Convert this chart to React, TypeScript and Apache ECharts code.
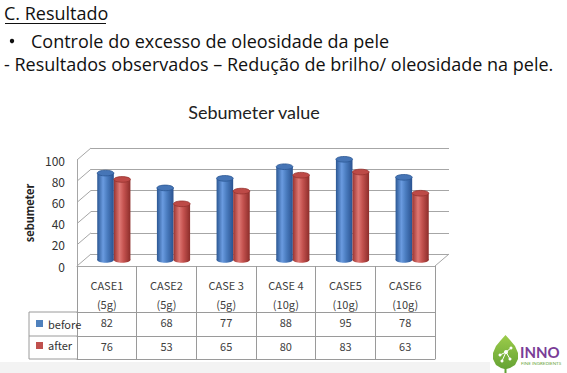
import React, { useEffect, useRef } from "react";
import * as echarts from "echarts";

const headerLines = [
  "C. Resultado",
  "Controle do excesso de oleosidade da pele",
  "- Resultados observados – Redução de brilho/ oleosidade na pele.",
];
const chartTitle = "Sebumeter value";
const yAxisName = "sebumeter";
const categories = ["CASE1", "CASE2", "CASE 3", "CASE 4", "CASE5", "CASE6"];
const doses = ["(5g)", "(5g)", "(5g)", "(10g)", "(10g)", "(10g)"];
const seriesNames = ["before", "after"];
const before = [82, 68, 77, 88, 95, 78];
const after = [76, 53, 65, 80, 83, 63];
const yTicks = [0, 20, 40, 60, 80, 100];

const HFONT = "'Open Sans'";
const FONT = "Lato";
const TFONT = "Noto Sans CJK KR";

// layout
const FRONT = { left: 77, top: 160, width: 358, height: 106 };
const DX = 14;
const DY = -12;
const GRID_LINE = "#a6a6a6";

const BLUE = {
  base: "#4f81bd",
  grad: [
    { offset: 0, color: "#2b5793" },
    { offset: 0.35, color: "#6a9be0" },
    { offset: 0.6, color: "#4b7dc0" },
    { offset: 1, color: "#2a5290" },
  ],
  top: "#4675b6",
  rim: "#2b5793",
};
const RED = {
  base: "#c0504d",
  grad: [
    { offset: 0, color: "#9a3431" },
    { offset: 0.35, color: "#de7773" },
    { offset: 0.6, color: "#c4524f" },
    { offset: 1, color: "#8c2d2a" },
  ],
  top: "#bd4a47",
  rim: "#96322f",
};

function barRenderer(side: number, c: typeof BLUE) {
  return (params: any, api: any) => {
    const cat = api.value(0);
    const v = api.value(1);
    const top = api.coord([cat, v]);
    const base = api.coord([cat, 0]);
    const band = api.size([1, 0])[0];
    const w = band * 0.278;
    const cx = top[0] + (side * w) / 2;
    const ry = w * 0.17;
    const grad = new echarts.graphic.LinearGradient(0, 0, 1, 0, c.grad);
    return {
      type: "group",
      children: [
        {
          type: "ellipse",
          shape: { cx, cy: base[1], rx: w / 2, ry },
          style: { fill: grad },
        },
        {
          type: "rect",
          shape: { x: cx - w / 2, y: top[1], width: w, height: base[1] - top[1] },
          style: { fill: grad },
        },
        {
          type: "ellipse",
          shape: { cx, cy: top[1], rx: w / 2, ry },
          style: { fill: c.top, stroke: c.rim, lineWidth: 0.8 },
        },
      ],
    };
  };
}

function wallRenderer(params: any, api: any) {
  const v = api.value(1);
  const cs = params.coordSys;
  const y = api.coord([0, v])[1];
  const x0 = cs.x;
  const children: any[] = [
    {
      type: "line",
      shape: { x1: x0, y1: y, x2: x0 + DX, y2: y + DY },
      style: { stroke: GRID_LINE, lineWidth: 1 },
    },
  ];
  if (v === 0) {
    children.push({
      type: "line",
      shape: { x1: x0 + cs.width, y1: y, x2: x0 + cs.width + DX, y2: y + DY },
      style: { stroke: GRID_LINE, lineWidth: 1 },
    });
  }
  return { type: "group", children };
}

export default function App() {
  const ref = useRef<HTMLDivElement>(null);
  useEffect(() => {
    if (!ref.current) return;
    const chart = echarts.init(ref.current, null, { renderer: "svg" });
    const tableLeft = 29;
    const rowY = [FRONT.top + FRONT.height + 46, FRONT.top + FRONT.height + 70, FRONT.top + FRONT.height + 93];
    const tableStroke = { stroke: "#9a9a9a", lineWidth: 1 };

    chart.setOption({
      animation: false,
      color: [BLUE.base, RED.base],
      grid: [
        { left: FRONT.left, top: FRONT.top, width: FRONT.width, height: FRONT.height },
        { left: FRONT.left + DX, top: FRONT.top + DY, width: FRONT.width, height: FRONT.height },
        { left: FRONT.left + DX / 2, top: FRONT.top + DY / 2, width: FRONT.width, height: FRONT.height },
      ],
      xAxis: [
        {
          type: "category",
          gridIndex: 0,
          data: categories,
          position: "bottom",
          axisLine: { show: true, lineStyle: { color: GRID_LINE } },
          axisTick: { show: true, interval: 0, length: 93, lineStyle: { color: "#9a9a9a" } },
          axisLabel: {
            interval: 0,
            margin: 9,
            fontFamily: TFONT,
            fontSize: 11,
            lineHeight: 19,
            color: "#404040",
            formatter: (val: string, i: number) => `${val}\n${doses[i]}`,
          },
        },
        {
          type: "category",
          gridIndex: 0,
          data: categories,
          position: "bottom",
          offset: 46,
          axisLine: { show: true, lineStyle: { color: "#9a9a9a" } },
          axisTick: { show: false },
          axisLabel: {
            interval: 0,
            margin: 4,
            fontFamily: TFONT,
            fontSize: 11,
            color: "#404040",
            formatter: (_v: string, i: number) => String(before[i]),
          },
        },
        {
          type: "category",
          gridIndex: 0,
          data: categories,
          position: "bottom",
          offset: 70,
          axisLine: { show: true, lineStyle: { color: "#9a9a9a" } },
          axisTick: { show: false },
          axisLabel: {
            interval: 0,
            margin: 4,
            fontFamily: TFONT,
            fontSize: 11,
            color: "#404040",
            formatter: (_v: string, i: number) => String(after[i]),
          },
        },
        {
          type: "category",
          gridIndex: 0,
          data: categories,
          position: "bottom",
          offset: 93,
          axisLine: { show: true, lineStyle: { color: "#9a9a9a" } },
          axisTick: { show: false },
          axisLabel: { show: false },
        },
        { type: "category", gridIndex: 1, data: categories, show: false },
        { type: "category", gridIndex: 2, data: categories, show: false },
      ],
      yAxis: [
        {
          type: "value",
          gridIndex: 0,
          min: 0,
          max: 100,
          interval: 20,
          axisLine: { show: true, lineStyle: { color: GRID_LINE } },
          axisTick: { show: false },
          splitLine: { show: false },
          axisLabel: { margin: 12, fontFamily: TFONT, fontSize: 12, color: "#333" },
          name: yAxisName,
          nameLocation: "middle",
          nameRotate: 90,
          nameGap: 40,
          nameTextStyle: { fontFamily: TFONT, fontWeight: "bold", fontSize: 11, color: "#222" },
        },
        {
          type: "value",
          gridIndex: 1,
          min: 0,
          max: 100,
          interval: 20,
          axisLine: { show: false },
          axisTick: { show: false },
          axisLabel: { show: false },
          splitLine: { show: true, lineStyle: { color: GRID_LINE, width: 1 } },
        },
        { type: "value", gridIndex: 2, min: 0, max: 100, interval: 20, show: false, splitLine: { show: false } },
      ],
      legend: {
        data: seriesNames,
        orient: "vertical",
        left: 31,
        top: 313,
        itemWidth: 7,
        itemHeight: 7,
        itemGap: 11,
        icon: "rect",
        textStyle: { fontFamily: TFONT, fontSize: 11, color: "#333" },
      },
      series: [
        {
          type: "custom",
          name: "walls",
          xAxisIndex: 0,
          yAxisIndex: 0,
          silent: true,
          z: 1,
          data: yTicks.map((v) => [0, v]),
          renderItem: wallRenderer,
        },
        {
          type: "custom",
          name: seriesNames[0],
          xAxisIndex: 5,
          yAxisIndex: 2,
          z: 3,
          itemStyle: { color: BLUE.base },
          data: before.map((v, i) => [i, v]),
          renderItem: barRenderer(-1, BLUE),
        },
        {
          type: "custom",
          name: seriesNames[1],
          xAxisIndex: 5,
          yAxisIndex: 2,
          z: 4,
          itemStyle: { color: RED.base },
          data: after.map((v, i) => [i, v]),
          renderItem: barRenderer(1, RED),
        },
      ],
      graphic: [
        { type: "rect", shape: { x: 0, y: 362, width: 490, height: 11 }, style: { fill: "#f3f3f3" }, z: -10 },
        {
          type: "text",
          x: 4,
          y: 13,
          style: { text: headerLines[0], font: `18px ${HFONT}`, fill: "#111", verticalAlign: "middle" },
        },
        { type: "line", shape: { x1: 5, y1: 23.5, x2: 106, y2: 23.5 }, style: { stroke: "#111", lineWidth: 1 } },
        { type: "circle", shape: { cx: 12, cy: 41, r: 2.2 }, style: { fill: "#111" } },
        {
          type: "text",
          x: 31,
          y: 41,
          style: { text: headerLines[1], font: `18px ${HFONT}`, fill: "#111", verticalAlign: "middle" },
        },
        {
          type: "text",
          x: 4,
          y: 64,
          style: { text: headerLines[2], font: `18px ${HFONT}`, fill: "#111", verticalAlign: "middle" },
        },
        {
          type: "text",
          x: 254,
          y: 112,
          style: { text: chartTitle, font: `18px ${FONT}`, fill: "#222", align: "center", verticalAlign: "middle" },
        },
        { type: "line", shape: { x1: tableLeft, y1: rowY[0], x2: FRONT.left, y2: rowY[0] }, style: tableStroke },
        { type: "line", shape: { x1: tableLeft, y1: rowY[1], x2: FRONT.left, y2: rowY[1] }, style: tableStroke },
        { type: "line", shape: { x1: tableLeft, y1: rowY[2], x2: FRONT.left, y2: rowY[2] }, style: tableStroke },
        { type: "line", shape: { x1: tableLeft, y1: rowY[0], x2: tableLeft, y2: rowY[2] }, style: tableStroke },
        // logo
        {
          type: "polygon",
          shape: {
            points: [
              [505.5, 335], [510, 340], [515, 346], [518, 353], [518, 359], [515, 365], [510, 368], [506.5, 369],
              [506.5, 373], [504.5, 373], [504.5, 369], [501, 368], [496, 365], [493, 359], [493, 353], [496, 346], [501, 340],
            ],
          },
          style: {
            fill: new echarts.graphic.LinearGradient(0, 0, 0, 1, [
              { offset: 0, color: "#9ccc4a" },
              { offset: 1, color: "#5f9e32" },
            ]),
          },
        },
        { type: "line", shape: { x1: 500, y1: 355, x2: 506, y2: 352 }, style: { stroke: "#fff", lineWidth: 1 } },
        { type: "line", shape: { x1: 506, y1: 352, x2: 511, y2: 348 }, style: { stroke: "#fff", lineWidth: 1 } },
        { type: "line", shape: { x1: 506, y1: 352, x2: 510, y2: 359 }, style: { stroke: "#fff", lineWidth: 1 } },
        { type: "line", shape: { x1: 506, y1: 352, x2: 502, y2: 361 }, style: { stroke: "#fff", lineWidth: 1 } },
        { type: "circle", shape: { cx: 506, cy: 352, r: 2 }, style: { fill: "#fff" } },
        { type: "circle", shape: { cx: 500, cy: 355, r: 1.5 }, style: { fill: "#fff" } },
        { type: "circle", shape: { cx: 511, cy: 348, r: 1.5 }, style: { fill: "#fff" } },
        { type: "circle", shape: { cx: 510, cy: 359, r: 1.5 }, style: { fill: "#fff" } },
        { type: "circle", shape: { cx: 502, cy: 361, r: 1.5 }, style: { fill: "#fff" } },
        {
          type: "text",
          x: 520,
          y: 352,
          style: { text: "INNO", font: `bold 15px ${FONT}`, fill: "#7a3d97", verticalAlign: "middle" },
        },
        {
          type: "text",
          x: 521,
          y: 363,
          style: { text: "FINE INGREDIENTS", font: `4.5px ${FONT}`, fill: "#6aa53a", verticalAlign: "middle" },
        },
      ],
    });
    return () => chart.dispose();
  }, []);
  return (
    <div
      ref={ref}
      style={{ position: "fixed", left: 0, top: 0, width: 567, height: 373, background: "#fff" }}
    />
  );
}
